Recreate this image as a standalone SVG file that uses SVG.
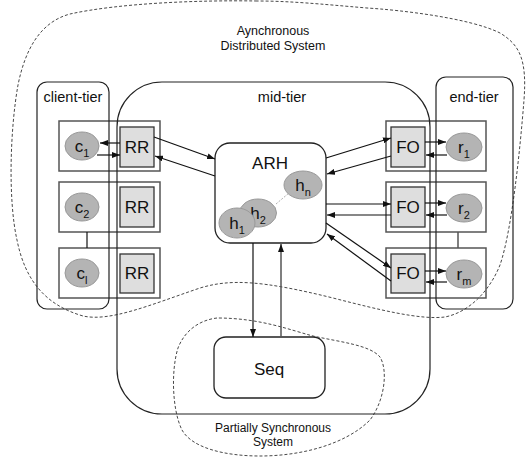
<svg xmlns="http://www.w3.org/2000/svg" width="526" height="457" viewBox="0 0 526 457">
<style>
text{font-family:"Liberation Sans",Arial,sans-serif;fill:#111}
.tier{fill:none;stroke:#222;stroke-width:1.2}
.region{fill:none;stroke:#333;stroke-width:0.9;stroke-dasharray:3,2}
.outer{fill:none;stroke:#555;stroke-width:1.5}
.inner{fill:#dedede;stroke:#333;stroke-width:1.3}
.ell{fill:#b4b4b4;stroke:#999;stroke-width:1}
.lbl{font-size:17px;text-anchor:middle}
.sub{font-size:11px}
.c{stroke:#111;stroke-width:1.2;fill:none}
.c2{stroke:#555;stroke-width:1.5;fill:none}
.big{font-size:17px;text-anchor:middle}
.tt{font-size:14.5px;text-anchor:middle}
.rt{font-size:12.5px;text-anchor:middle}
</style>
<defs>
<marker id="ah" viewBox="0 0 8 6" refX="8" refY="3" markerWidth="8" markerHeight="6" markerUnits="userSpaceOnUse" orient="auto">
<path d="M0,0 L8,3 L0,6 z" fill="#111"/>
</marker>
</defs>

<g id="async-region">
<path class="region" d="M257,1 C200,0 120,3 70,14 C40,22 25,50 18,85 C10,130 8,200 17,240 C25,280 45,305 83,316 C110,322 150,305 200,288 C230,279 260,280 333,298 C380,310 420,320 445,317 C470,312 490,290 500,265 C512,230 520,150 524,100 C527,60 520,45 500,33 C470,18 400,10 367,8 C320,4 290,1 257,1 Z"/>
<text class="rt" x="273" y="35">Aynchronous</text>
<text class="rt" x="273" y="50">Distributed System</text>
</g>

<g id="psync-region">
<path class="region" d="M217,318 C200,320 185,330 178,348 C171,370 172,410 182,430 C192,448 225,456 260,456 C300,456 345,445 370,420 C385,400 388,370 380,357 C370,345 340,342 313,336 C290,330 260,318 217,318 Z"/>
<text class="rt" x="273" y="432" style="font-size:12px">Partially Synchronous</text>
<text class="rt" x="273" y="446" style="font-size:12px">System</text>
</g>

<g id="client-boxes">
<rect class="outer" x="59" y="121" width="101" height="50"/>
<rect class="outer" x="59" y="182" width="101" height="50"/>
<rect class="outer" x="59" y="248" width="101" height="50"/>
</g>
<g id="end-boxes">
<rect class="outer" x="386" y="121" width="100" height="50"/>
<rect class="outer" x="386" y="182" width="100" height="50"/>
<rect class="outer" x="386" y="248" width="100" height="50"/>
</g>

<g id="client-tier">
<rect class="tier" x="37" y="82" width="72" height="227" rx="10"/>
<text class="tt" x="73" y="102">client-tier</text>
</g>
<g id="mid-tier">
<rect class="tier" x="117" y="82" width="313" height="332" rx="45"/>
<text class="tt" x="282" y="102">mid-tier</text>
</g>
<g id="end-tier">
<rect class="tier" x="436" y="77" width="77" height="232" rx="10"/>
<text class="tt" x="474" y="102">end-tier</text>
</g>

<g id="c1"><ellipse class="ell" cx="82" cy="146" rx="17" ry="14"/><text class="lbl" x="82" y="152">c<tspan class="sub" dy="5">1</tspan></text></g>
<g id="c2"><ellipse class="ell" cx="82" cy="207" rx="17" ry="14"/><text class="lbl" x="82" y="213">c<tspan class="sub" dy="5">2</tspan></text></g>
<g id="cl"><ellipse class="ell" cx="82" cy="273" rx="17" ry="14"/><text class="lbl" x="82" y="279">c<tspan class="sub" dy="5">l</tspan></text></g>

<g id="rr1"><rect class="inner" x="120" y="127" width="34" height="40"/><text class="lbl" x="137" y="153">RR</text></g>
<g id="rr2"><rect class="inner" x="120" y="187" width="34" height="40"/><text class="lbl" x="137" y="213">RR</text></g>
<g id="rr3"><rect class="inner" x="120" y="254" width="34" height="39"/><text class="lbl" x="137" y="279">RR</text></g>

<g id="fo1"><rect class="inner" x="391" y="127" width="34" height="40"/><text class="lbl" x="408" y="153">FO</text></g>
<g id="fo2"><rect class="inner" x="391" y="187" width="34" height="40"/><text class="lbl" x="408" y="213">FO</text></g>
<g id="fo3"><rect class="inner" x="391" y="254" width="34" height="39"/><text class="lbl" x="408" y="279">FO</text></g>

<g id="r1"><ellipse class="ell" cx="464" cy="147" rx="18" ry="14"/><text class="lbl" x="464" y="153">r<tspan class="sub" dy="5">1</tspan></text></g>
<g id="r2"><ellipse class="ell" cx="464" cy="208" rx="18" ry="14"/><text class="lbl" x="464" y="214">r<tspan class="sub" dy="5">2</tspan></text></g>
<g id="rm"><ellipse class="ell" cx="464" cy="274" rx="18" ry="14"/><text class="lbl" x="464" y="280">r<tspan class="sub" dy="5">m</tspan></text></g>

<g id="arh">
<rect fill="#fff" stroke="#222" stroke-width="1.3" x="215" y="143" width="111" height="100" rx="15"/>
<text class="big" x="270" y="169">ARH</text>
<line x1="276" y1="204" x2="289" y2="193" stroke="#999" stroke-width="0.8" stroke-dasharray="2,1.5"/>
<ellipse class="ell" cx="303" cy="185" rx="19" ry="14"/><text class="lbl" x="303" y="191">h<tspan class="sub" dy="5">n</tspan></text>
<ellipse class="ell" cx="258" cy="213" rx="18.5" ry="14"/><text class="lbl" x="258" y="219">h<tspan class="sub" dy="5">2</tspan></text>
<ellipse class="ell" cx="237" cy="223" rx="18" ry="15"/><text class="lbl" x="237" y="229">h<tspan class="sub" dy="5">1</tspan></text>
</g>

<g id="seq">
<rect fill="#fff" stroke="#222" stroke-width="1.3" x="214" y="337" width="111" height="61" rx="12"/>
<text class="lbl" x="269" y="375">Seq</text>
</g>

<g id="connectors">
<line class="c" x1="87" y1="232" x2="87" y2="248"/>
<line class="c2" x1="458" y1="232" x2="458" y2="248"/>
<line class="c" x1="120" y1="143" x2="100" y2="143" marker-end="url(#ah)"/>
<line class="c" x1="97" y1="155" x2="120" y2="155" marker-end="url(#ah)"/>
<line class="c" x1="154" y1="137" x2="215" y2="159" marker-end="url(#ah)"/>
<line class="c" x1="215" y1="176" x2="155" y2="156" marker-end="url(#ah)"/>
<line class="c" x1="326" y1="158" x2="391" y2="138" marker-end="url(#ah)"/>
<line class="c" x1="391" y1="156" x2="327" y2="174" marker-end="url(#ah)"/>
<line class="c" x1="326" y1="204" x2="391" y2="204" marker-end="url(#ah)"/>
<line class="c" x1="391" y1="215" x2="327" y2="215" marker-end="url(#ah)"/>
<line class="c" x1="326" y1="223" x2="391" y2="268" marker-end="url(#ah)"/>
<line class="c" x1="391" y1="281" x2="327" y2="234" marker-end="url(#ah)"/>
<line class="c" x1="425" y1="142" x2="446" y2="142" marker-end="url(#ah)"/>
<line class="c" x1="447" y1="155" x2="426" y2="155" marker-end="url(#ah)"/>
<line class="c" x1="425" y1="203" x2="446" y2="203" marker-end="url(#ah)"/>
<line class="c" x1="447" y1="215" x2="426" y2="215" marker-end="url(#ah)"/>
<line class="c" x1="425" y1="271" x2="446" y2="271" marker-end="url(#ah)"/>
<line class="c" x1="447" y1="282" x2="426" y2="282" marker-end="url(#ah)"/>
<line class="c" x1="253" y1="243" x2="253" y2="337" marker-end="url(#ah)"/>
<line class="c2" x1="281" y1="337" x2="281" y2="244" marker-end="url(#ah)"/>
</g>
</svg>
